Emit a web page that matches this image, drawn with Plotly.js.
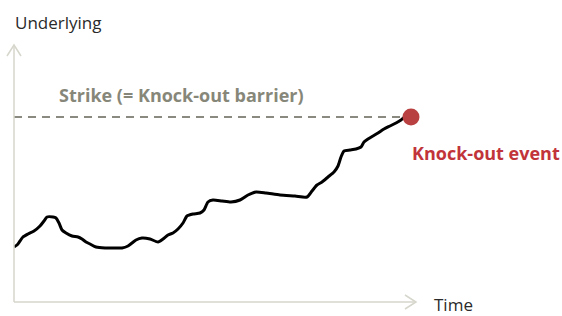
<!DOCTYPE html>
<html><head><meta charset="utf-8">
<script src="https://cdn.plot.ly/plotly-3.0.1.min.js"></script>
<style>html,body{margin:0;padding:0;background:#fff;}#chart{width:562px;height:316px;}</style>
</head><body><div id="chart"></div>
<script>
// Time (arbitrary units) and underlying level
const time = [0,3,6,9,14,20,26,30,33,39,42,45,48,52,58,64,68,72,76,82,91,101,108,114,118,122,128,136,144,149,154,159,164,169,173,179,186,190,194,199,208,217,226,234,242,252,266,281,293,298,303,308,314,320,324,327,330,336,342,347,350,354,359,364,370,376,382,387,391,397];
const underlying = [55,57,61,65,68,71,76,81,85,85,84,79,72,69,66,65,63,60,58,55,54,54,54,56,59,62,64,63,60,63,67,69,73,79,86,88,89,92,100,102,101,100,102,107,110,109,107,106,105,111,117,120,125,130,136,145,151,152,153,155,160,163,166,169,173,176,179,182,185,185];
const strike = 185;
const knockTime = 397;
const labels = {y: "Underlying", x: "Time", strike: "Strike (= Knock-out barrier)", event: "Knock-out event"};

const axisCol = "#d6d6cc";
const data = [
  {x:[0, knockTime-6], y:[strike, strike], mode:"lines", line:{color:"#8a8a80", width:2, dash:"8px,6px"}, hoverinfo:"skip"},
  {x:time, y:underlying, mode:"lines", line:{color:"#000", width:3, shape:"spline", smoothing:0.6}, hoverinfo:"skip"},
  {x:[knockTime], y:[strike], mode:"markers", marker:{color:"#b94040", size:17}, cliponaxis:false, hoverinfo:"skip"}
];
const ax = {range:[0,402], showgrid:false, zeroline:false, showticklabels:false, showline:false, ticks:"", fixedrange:true};
const ayy = {range:[0,257], showgrid:false, zeroline:false, showticklabels:false, showline:false, ticks:"", fixedrange:true};
const layout = {
  width:562, height:316, margin:{l:14, r:146, t:45, b:14},
  paper_bgcolor:"#fff", plot_bgcolor:"#fff", showlegend:false,
  xaxis:ax, yaxis:ayy,
  font:{family:"Open Sans, sans-serif"},
  shapes:[
    {type:"line", xref:"paper", yref:"paper", x0:0, x1:0, y0:0, y1:1, line:{color:axisCol, width:1.5}},
    {type:"line", xref:"paper", yref:"paper", x0:0, x1:1, y0:0, y1:0, line:{color:axisCol, width:1.5}},
    {type:"path", xref:"paper", yref:"paper", path:`M ${-7/402} ${1-11/257} L 0 1 L ${7/402} ${1-11/257}`, line:{color:axisCol, width:1.5}},
    {type:"path", xref:"paper", yref:"paper", path:`M ${1-11/402} ${7/257} L 1 0 L ${1-11/402} ${-7/257}`, line:{color:axisCol, width:1.5}}
  ],
  annotations:[
    {xref:"paper", yref:"paper", x:0, y:1, xshift:-1, yshift:23, xanchor:"left", yanchor:"middle", text:labels.y, showarrow:false, font:{size:17, color:"#2a2a2a"}},
    {xref:"paper", yref:"paper", x:1, y:0, xshift:17, yshift:-2, xanchor:"left", yanchor:"middle", borderpad:0, text:labels.x, showarrow:false, font:{size:17, color:"#2a2a2a"}},
    {xref:"x", yref:"y", x:43, y:strike, yshift:22, xanchor:"left", yanchor:"middle", text:"<b>"+labels.strike+"</b>", showarrow:false, font:{size:18, color:"#878779"}},
    {xref:"x", yref:"y", x:knockTime, y:strike, xshift:-1, yshift:-36, xanchor:"left", yanchor:"middle", text:"<b>"+labels.event+"</b>", showarrow:false, font:{size:18, color:"#c1343a"}}
  ]
};
Plotly.newPlot("chart", data, layout, {staticPlot:true, displayModeBar:false});
</script></body></html>
